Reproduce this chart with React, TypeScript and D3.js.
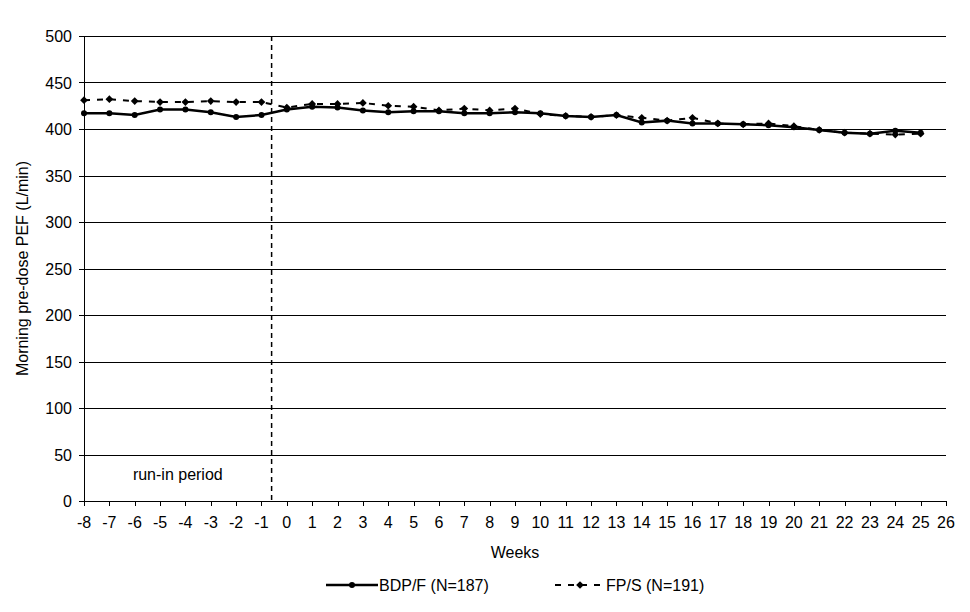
import React, { useEffect, useRef } from 'react';
import * as d3 from 'd3';

const weeks = [-8, -7, -6, -5, -4, -3, -2, -1, 0, 1, 2, 3, 4, 5, 6, 7, 8, 9, 10, 11, 12, 13, 14, 15, 16, 17, 18, 19, 20, 21, 22, 23, 24, 25];
const bdpf = [417, 417, 415, 421, 421, 418, 413, 415, 421, 424, 423, 420, 418, 419, 419, 417, 417, 418, 417, 414, 413, 415, 407, 409, 406, 406, 405, 404, 402, 399, 396, 395, 398, 396];
const fps = [431, 432, 430, 429, 429, 430, 429, 429, 423, 427, 427, 428, 425, 424, 420, 422, 420, 422, 416, 414, 413, 415, 412, 409, 412, 406, 405, 406, 403, 399, 396, 395, 394, 395];
const yTicks = [0, 50, 100, 150, 200, 250, 300, 350, 400, 450, 500];
const xTicks = d3.range(-8, 27);
const runInEnd = -0.6;

const W = 970, H = 612;
const margin = { top: 36, right: 24, bottom: 111, left: 84 };
const FONT = 'Arial, "Liberation Sans", sans-serif';
const FS = 16;

export default function App() {
  const ref = useRef<SVGSVGElement>(null);

  useEffect(() => {
    const svg = d3.select(ref.current);
    svg.selectAll('*').remove();

    const x = d3.scaleLinear().domain([-8, 26]).range([margin.left, W - margin.right]);
    const y = d3.scaleLinear().domain([0, 500]).range([H - margin.bottom, margin.top]);

    // gridlines
    svg.append('g')
      .selectAll('line')
      .data(yTicks)
      .enter()
      .append('line')
      .attr('x1', margin.left - 5)
      .attr('x2', W - margin.right)
      .attr('y1', d => Math.round(y(d)) + 0.5)
      .attr('y2', d => Math.round(y(d)) + 0.5)
      .attr('stroke', '#000')
      .attr('stroke-width', 1);

    svg.append('g')
      .selectAll('text')
      .data(yTicks)
      .enter()
      .append('text')
      .attr('x', margin.left - 12)
      .attr('y', d => y(d) + 6)
      .attr('text-anchor', 'end')
      .attr('font-family', FONT)
      .attr('font-size', FS)
      .text(d => d);

    // axes lines
    svg.append('line')
      .attr('x1', margin.left + 0.5).attr('x2', margin.left + 0.5)
      .attr('y1', margin.top).attr('y2', H - margin.bottom)
      .attr('stroke', '#000');

    const xAxis = svg.append('g');
    xAxis.selectAll('line')
      .data(xTicks)
      .enter()
      .append('line')
      .attr('x1', d => Math.round(x(d)) + 0.5)
      .attr('x2', d => Math.round(x(d)) + 0.5)
      .attr('y1', H - margin.bottom)
      .attr('y2', H - margin.bottom + 5)
      .attr('stroke', '#000');
    xAxis.selectAll('text')
      .data(xTicks)
      .enter()
      .append('text')
      .attr('x', d => x(d))
      .attr('y', H - margin.bottom + 27)
      .attr('text-anchor', 'middle')
      .attr('font-family', FONT)
      .attr('font-size', FS)
      .text(d => d);

    // run-in separator
    svg.append('line')
      .attr('x1', x(runInEnd)).attr('x2', x(runInEnd))
      .attr('y1', margin.top).attr('y2', H - margin.bottom)
      .attr('stroke', '#000')
      .attr('stroke-width', 1.5)
      .attr('stroke-dasharray', '5,4');

    svg.append('text')
      .attr('x', (x(-8) + x(runInEnd)) / 2)
      .attr('y', 480)
      .attr('text-anchor', 'middle')
      .attr('font-family', FONT)
      .attr('font-size', FS)
      .text('run-in period');

    const line = d3.line<number>()
      .x((d, i) => x(weeks[i]))
      .y(d => y(d));

    svg.append('path')
      .datum(fps)
      .attr('d', line)
      .attr('fill', 'none')
      .attr('stroke', '#000')
      .attr('stroke-width', 2)
      .attr('stroke-dasharray', '6,7');

    svg.append('path')
      .datum(bdpf)
      .attr('d', line)
      .attr('fill', 'none')
      .attr('stroke', '#000')
      .attr('stroke-width', 2.5);

    const diamond = d3.symbol().type(d3.symbolSquare).size(30);

    svg.append('g')
      .selectAll('path')
      .data(fps)
      .enter()
      .append('path')
      .attr('d', diamond)
      .attr('transform', (d, i) => `translate(${x(weeks[i])},${y(d)}) rotate(45)`)
      .attr('fill', '#000');

    svg.append('g')
      .selectAll('circle')
      .data(bdpf)
      .enter()
      .append('circle')
      .attr('cx', (d, i) => x(weeks[i]))
      .attr('cy', d => y(d))
      .attr('r', 3)
      .attr('fill', '#000');

    // axis titles
    svg.append('text')
      .attr('x', (margin.left + W - margin.right) / 2)
      .attr('y', 558)
      .attr('text-anchor', 'middle')
      .attr('font-family', FONT)
      .attr('font-size', FS)
      .text('Weeks');

    svg.append('text')
      .attr('transform', `translate(28,${(margin.top + H - margin.bottom) / 2}) rotate(-90)`)
      .attr('text-anchor', 'middle')
      .attr('font-family', FONT)
      .attr('font-size', FS)
      .text('Morning pre-dose PEF (L/min)');

    // legend
    const ly = 585;
    const leg = svg.append('g');
    leg.append('line')
      .attr('x1', 326).attr('x2', 378).attr('y1', ly).attr('y2', ly)
      .attr('stroke', '#000').attr('stroke-width', 2.5);
    leg.append('circle').attr('cx', 352).attr('cy', ly).attr('r', 3).attr('fill', '#000');
    leg.append('text')
      .attr('x', 379).attr('y', ly + 6)
      .attr('font-family', FONT).attr('font-size', FS)
      .text('BDP/F (N=187)');

    leg.append('line')
      .attr('x1', 555).attr('x2', 606).attr('y1', ly).attr('y2', ly)
      .attr('stroke', '#000').attr('stroke-width', 2)
      .attr('stroke-dasharray', '6,7');
    leg.append('path')
      .attr('d', diamond)
      .attr('transform', `translate(580,${ly}) rotate(45)`)
      .attr('fill', '#000');
    leg.append('text')
      .attr('x', 606).attr('y', ly + 6)
      .attr('font-family', FONT).attr('font-size', FS)
      .text('FP/S (N=191)');
  }, []);

  return (
    <svg
      ref={ref}
      width={W}
      height={H}
      style={{ position: 'absolute', left: 0, top: 0, background: '#fff' }}
    />
  );
}
